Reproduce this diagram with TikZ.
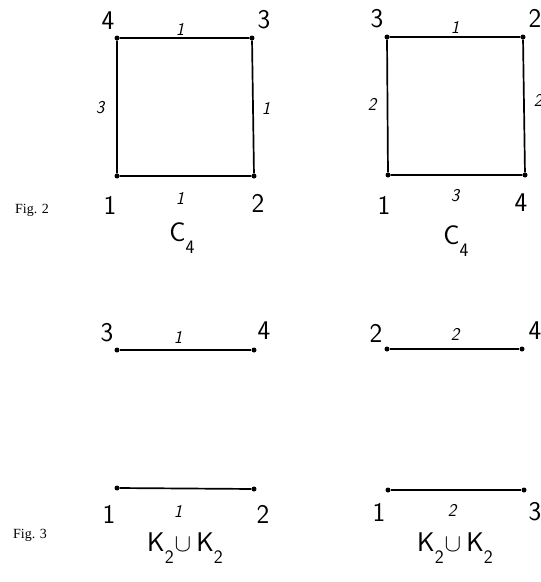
\documentclass[tikz,border=0pt]{standalone}
\usepackage{fontspec}
\usepackage{tikz}
\usetikzlibrary{positioning}
\newfontfamily\figfont{Liberation Serif}
\newcommand{\lowidx}[1]{\raisebox{-0.42em}{\fontsize{19}{20}\selectfont #1}}
\newcommand{\bigunion}{\hspace{1pt}{\fontsize{36}{36}\selectfont$\cup$}\hspace{5pt}}

\tikzset{
  vert/.style={circle, fill=black, inner sep=0pt, minimum size=5pt},
  vlabel/.style={font=\sffamily\fontsize{27}{28}\selectfont},
  elabel/.style={font=\sffamily\itshape\fontsize{18}{19}\selectfont},
  figlabel/.style={font=\figfont\fontsize{14}{15}\selectfont},
  edge/.style={line width=1.7pt}
}

\begin{document}
\begin{tikzpicture}[x=1pt, y=-1pt]
  \useasboundingbox (0,0) rectangle (541,582);

  % Fig. 2, left C4
  \node[vert] (a1) at (117,176) {};
  \node[vert] (a2) at (254,176) {};
  \node[vert] (a3) at (252,38) {};
  \node[vert] (a4) at (117,38) {};
  \draw[edge] (a1) -- (a2) -- (a3) -- (a4) -- (a1);
  \node[vlabel] at (108,21) {4};
  \node[vlabel] at (264,20) {3};
  \node[vlabel] at (110,205) {1};
  \node[vlabel] at (258,203) {2};
  \node[elabel] at (180,29) {1};
  \node[elabel] at (100,108) {3};
  \node[elabel] at (266,108) {1};
  \node[elabel] at (180,198) {1};
  \node[vlabel] at (182,238) {C\lowidx{4}};

  % Fig. 2, right C4
  \node[vert] (b1) at (388,175) {};
  \node[vert] (b4) at (525,175) {};
  \node[vert] (b2) at (523,37) {};
  \node[vert] (b3) at (387,37) {};
  \draw[edge] (b1) -- (b4) -- (b2) -- (b3) -- (b1);
  \node[vlabel] at (377,19) {3};
  \node[vlabel] at (535,18) {2};
  \node[vlabel] at (384,205) {1};
  \node[vlabel] at (521,203) {4};
  \node[elabel] at (455,27) {1};
  \node[elabel] at (372,104) {2};
  \node[elabel] at (538,100) {2};
  \node[elabel] at (455,196) {3};
  \node[vlabel] at (456,241) {C\lowidx{4}};

  \node[figlabel] at (32,210) {Fig. 2};

  % Fig. 3, left K2 u K2
  \node[vert] (c3) at (117,350) {};
  \node[vert] (c4) at (254,350) {};
  \node[vert] (c1) at (117,488) {};
  \node[vert] (c2) at (254,489) {};
  \draw[edge] (c3) -- (c4);
  \draw[edge] (c1) -- (c2);
  \node[vlabel] at (107,333) {3};
  \node[vlabel] at (264,331) {4};
  \node[vlabel] at (109,514) {1};
  \node[vlabel] at (263,514) {2};
  \node[elabel] at (178,337) {1};
  \node[elabel] at (178,511) {1};
  \node[vlabel] at (185,548) {K\lowidx{2}\bigunion K\lowidx{2}};

  % Fig. 3, right K2 u K2
  \node[vert] (d2) at (387,349) {};
  \node[vert] (d4) at (522,349) {};
  \node[vert] (d1) at (388,490) {};
  \node[vert] (d3) at (524,490) {};
  \draw[edge] (d2) -- (d4);
  \draw[edge] (d1) -- (d3);
  \node[vlabel] at (376,333) {2};
  \node[vlabel] at (535,331) {4};
  \node[vlabel] at (379,512) {1};
  \node[vlabel] at (535,512) {3};
  \node[elabel] at (455,334) {2};
  \node[elabel] at (452,510) {2};
  \node[vlabel] at (455,548) {K\lowidx{2}\bigunion K\lowidx{2}};

  \node[figlabel] at (30,535) {Fig. 3};
\end{tikzpicture}
\end{document}
